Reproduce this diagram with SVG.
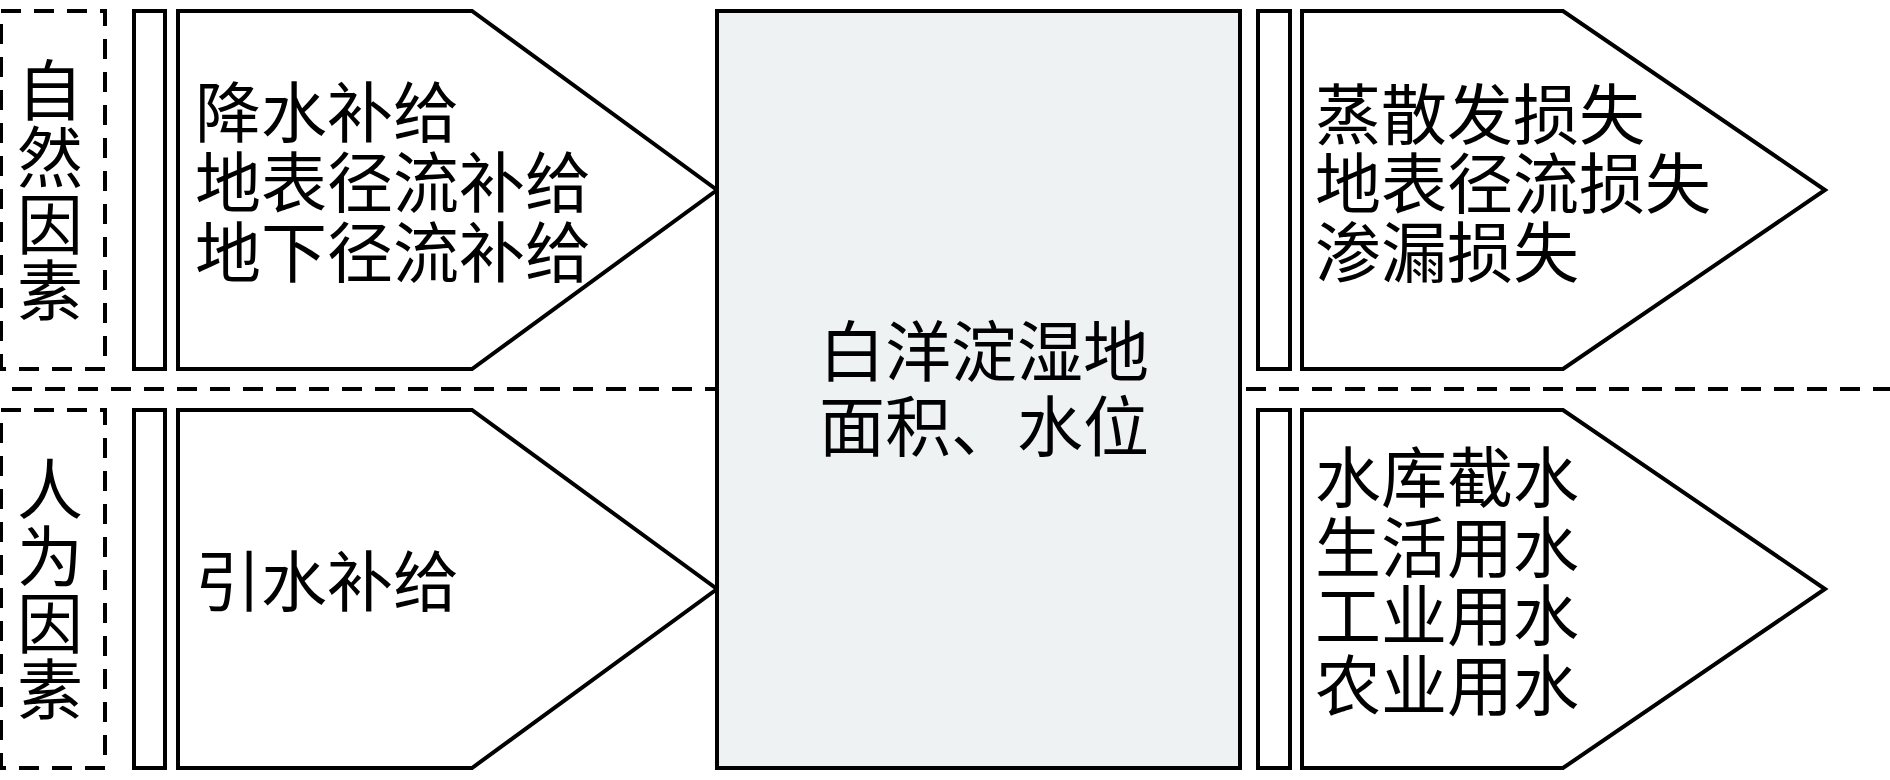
<svg xmlns="http://www.w3.org/2000/svg" width="1890" height="780" viewBox="0 0 1890 780">
<style>
.s{fill:#fff;stroke:#000;stroke-width:4;stroke-linejoin:miter}
.d{fill:none;stroke:#000;stroke-width:4;stroke-dasharray:20 13}
.c{fill:#eef2f3;stroke:#000;stroke-width:4}
text{font-family:"Liberation Serif","Noto Sans CJK SC",serif;font-size:66px;fill:#000;dominant-baseline:central}
</style>
<rect width="1890" height="780" fill="#fff"/>
<g id="connectors">
<line class="d" x1="12" y1="389" x2="717" y2="389"/>
<line class="d" x1="1246" y1="389" x2="1890" y2="389"/>
</g>
<g id="natural">
<rect class="d" x="1" y="11" width="104" height="358"/>
<text x="50" y="92" text-anchor="middle">自</text>
<text x="50" y="159" text-anchor="middle">然</text>
<text x="50" y="226" text-anchor="middle">因</text>
<text x="50" y="292" text-anchor="middle">素</text>
</g>
<g id="human">
<rect class="d" x="1" y="410" width="104" height="358"/>
<text x="50" y="491" text-anchor="middle">人</text>
<text x="50" y="558" text-anchor="middle">为</text>
<text x="50" y="625" text-anchor="middle">因</text>
<text x="50" y="691" text-anchor="middle">素</text>
</g>
<g id="bar-left-top"><rect class="s" x="134" y="11" width="31" height="358"/></g>
<g id="bar-left-bottom"><rect class="s" x="134" y="410" width="31" height="358"/></g>
<g id="inflow-natural">
<polygon class="s" points="178,11 472,11 717,190 472,369 178,369"/>
<text x="195" y="114">降水补给</text>
<text x="195" y="184">地表径流补给</text>
<text x="195" y="254">地下径流补给</text>
</g>
<g id="inflow-human">
<polygon class="s" points="178,410 472,410 717,589 472,768 178,768"/>
<text x="195" y="583">引水补给</text>
</g>
<g id="wetland">
<rect class="c" x="717" y="11" width="523" height="757"/>
<text x="984" y="353" text-anchor="middle">白洋淀湿地</text>
<text x="984" y="428" text-anchor="middle">面积、水位</text>
</g>
<g id="bar-right-top"><rect class="s" x="1258" y="11" width="32" height="358"/></g>
<g id="bar-right-bottom"><rect class="s" x="1258" y="410" width="32" height="358"/></g>
<g id="outflow-natural">
<polygon class="s" points="1302,11 1563,11 1825,190 1563,369 1302,369"/>
<text x="1315" y="116">蒸散发损失</text>
<text x="1315" y="185">地表径流损失</text>
<text x="1315" y="254">渗漏损失</text>
</g>
<g id="outflow-human">
<polygon class="s" points="1302,410 1563,410 1825,589 1563,768 1302,768"/>
<text x="1315" y="479">水库截水</text>
<text x="1315" y="549">生活用水</text>
<text x="1315" y="617">工业用水</text>
<text x="1315" y="687">农业用水</text>
</g>
</svg>
